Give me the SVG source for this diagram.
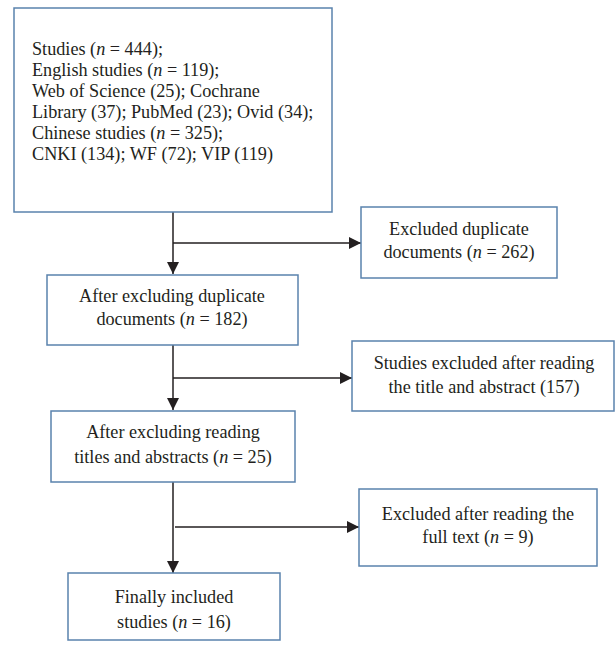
<svg xmlns="http://www.w3.org/2000/svg" width="616" height="650" viewBox="0 0 616 650">
<defs>
<style>
.box{fill:#fff;stroke:#5a82ad;stroke-width:1.5}
.t{font-family:"Liberation Serif","Times New Roman",serif;font-size:18.2px;fill:#231f20}
.c{text-anchor:middle}
.ln{stroke:#231f20;stroke-width:1.5;fill:none}
</style>
<marker id="ah" markerWidth="12" markerHeight="12" viewBox="0 0 12 12" refX="12" refY="6" orient="auto" markerUnits="userSpaceOnUse">
<path d="M0,0 L12,6 L0,12 Z" fill="#231f20"/>
</marker>
</defs>
<rect width="616" height="650" fill="#fff"/>
<g id="connectors">
<line class="ln" x1="173" y1="212" x2="173" y2="274" marker-end="url(#ah)"/>
<line class="ln" x1="173" y1="243" x2="361" y2="243" marker-end="url(#ah)"/>
<line class="ln" x1="173" y1="345" x2="173" y2="410" marker-end="url(#ah)"/>
<line class="ln" x1="173" y1="378" x2="352" y2="378" marker-end="url(#ah)"/>
<line class="ln" x1="173" y1="482" x2="173" y2="573" marker-end="url(#ah)"/>
<line class="ln" x1="175" y1="527" x2="359" y2="527" marker-end="url(#ah)"/>
</g>
<g id="n1">
<rect class="box" x="14" y="8" width="318" height="204"/>
<text class="t" x="32" y="55">Studies (<tspan font-style="italic">n</tspan> = 444);</text>
<text class="t" x="32" y="76">English studies (<tspan font-style="italic">n</tspan> = 119);</text>
<text class="t" x="32" y="97">Web of Science (25); Cochrane</text>
<text class="t" x="32" y="118">Library (37); PubMed (23); Ovid (34);</text>
<text class="t" x="32" y="139">Chinese studies (<tspan font-style="italic">n</tspan> = 325);</text>
<text class="t" x="32" y="160">CNKI (134); WF (72); VIP (119)</text>
</g>
<g id="n2">
<rect class="box" x="361" y="207" width="196" height="71"/>
<text class="t c" x="459" y="235">Excluded duplicate</text>
<text class="t c" x="459" y="258">documents (<tspan font-style="italic">n</tspan> = 262)</text>
</g>
<g id="n3">
<rect class="box" x="47" y="275" width="251" height="70"/>
<text class="t c" x="172" y="302">After excluding duplicate</text>
<text class="t c" x="172" y="325">documents (<tspan font-style="italic">n</tspan> = 182)</text>
</g>
<g id="n4">
<rect class="box" x="352" y="341" width="262" height="70"/>
<text class="t c" x="484" y="369">Studies excluded after reading</text>
<text class="t c" x="484" y="393">the title and abstract (157)</text>
</g>
<g id="n5">
<rect class="box" x="51" y="411" width="244" height="71"/>
<text class="t c" x="173" y="438">After excluding reading</text>
<text class="t c" x="173" y="463">titles and abstracts (<tspan font-style="italic">n</tspan> = 25)</text>
</g>
<g id="n6">
<rect class="box" x="359" y="489" width="238" height="77"/>
<text class="t c" x="478" y="520">Excluded after reading the</text>
<text class="t c" x="478" y="543">full text (<tspan font-style="italic">n</tspan> = 9)</text>
</g>
<g id="n7">
<rect class="box" x="68" y="573" width="212" height="67"/>
<text class="t c" x="174" y="603">Finally included</text>
<text class="t c" x="174" y="628">studies (<tspan font-style="italic">n</tspan> = 16)</text>
</g>
</svg>
